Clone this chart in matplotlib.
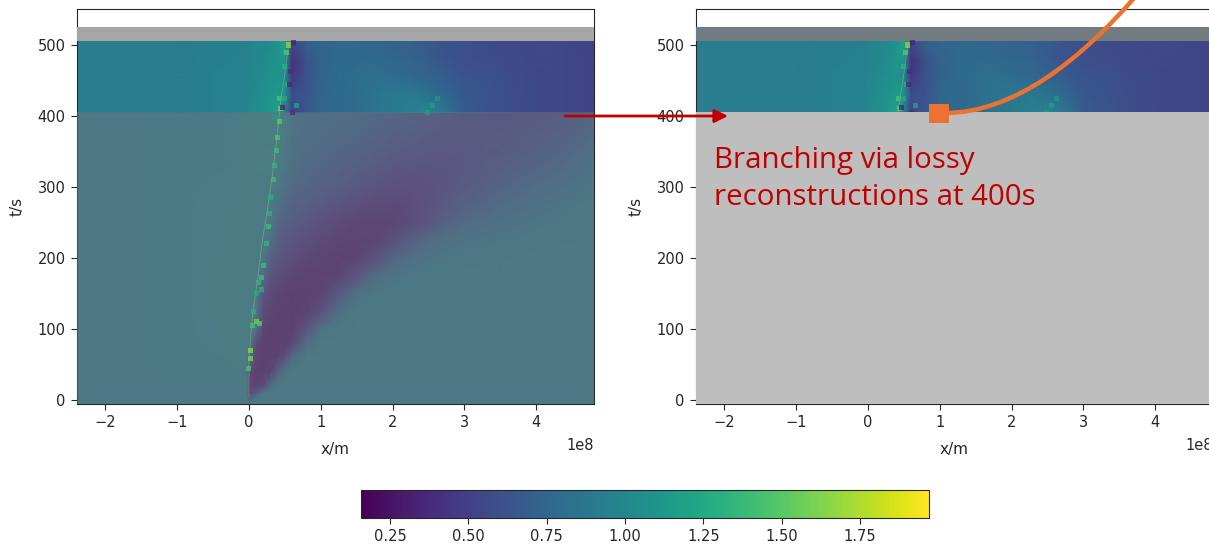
import numpy as np
import matplotlib
matplotlib.use("Agg")
import matplotlib.pyplot as plt
from matplotlib.colors import Normalize
from matplotlib.cm import ScalarMappable
from matplotlib.patches import FancyArrowPatch, PathPatch, Rectangle
from matplotlib.path import Path

W, H = 1209, 545

# x in units of 1e8 m, t in s
x_nodes = [-2.4, -1.6, -1.0, -0.5, -0.03, 0.0, 0.1, 0.2, 0.3, 0.4, 0.5, 0.6, 0.8,
           1.0, 1.25, 1.5, 1.75, 2.0, 2.25, 2.5, 2.75, 3.0, 3.5, 4.0, 4.4, 4.8]
t_nodes = [-6, 2, 10, 20, 40, 60, 80, 100, 125, 150, 175, 200, 225, 250, 275, 300,
           325, 350, 375, 404, 405, 430, 455, 480, 505]

field = [
    [1.00, 1.00, 1.00, 1.00, 1.00, 1.00, 1.00, 1.00, 1.00, 1.00, 1.00, 1.00, 1.00, 1.00, 1.00, 1.00, 1.00, 1.00, 1.00, 1.00, 1.00, 1.00, 1.00, 1.00, 1.00, 1.00],
    [1.00, 1.00, 1.00, 1.00, 1.00, 0.70, 1.00, 1.00, 1.00, 1.00, 1.00, 1.00, 1.00, 1.00, 1.00, 1.00, 1.00, 1.00, 1.00, 1.00, 1.00, 1.00, 1.00, 1.00, 1.00, 1.00],
    [1.00, 1.00, 1.00, 1.00, 1.00, 0.30, 0.55, 1.00, 1.00, 1.00, 1.00, 1.00, 1.00, 1.00, 1.00, 1.00, 1.00, 1.00, 1.00, 1.00, 1.00, 1.00, 1.00, 1.00, 1.00, 1.00],
    [1.00, 1.00, 1.00, 1.01, 1.00, 0.28, 0.25, 0.30, 0.80, 1.00, 1.00, 1.00, 1.00, 1.00, 1.00, 1.00, 1.00, 1.00, 1.00, 1.00, 1.00, 1.00, 1.00, 1.00, 1.00, 1.00],
    [1.00, 1.00, 1.01, 1.02, 1.02, 0.30, 0.22, 0.22, 0.25, 0.60, 0.95, 1.00, 1.00, 1.00, 1.00, 1.00, 1.00, 1.00, 1.00, 1.00, 1.00, 1.00, 1.00, 1.00, 1.00, 1.00],
    [1.00, 1.00, 1.01, 1.02, 1.04, 0.90, 0.25, 0.22, 0.22, 0.25, 0.40, 0.80, 1.00, 1.00, 1.00, 1.00, 1.00, 1.00, 1.00, 1.00, 1.00, 1.00, 1.00, 1.00, 1.00, 1.00],
    [1.00, 1.00, 1.01, 1.03, 1.05, 1.00, 0.35, 0.22, 0.22, 0.22, 0.22, 0.30, 0.80, 1.00, 1.00, 1.00, 1.00, 1.00, 1.00, 1.00, 1.00, 1.00, 1.00, 1.00, 1.00, 1.00],
    [1.00, 1.00, 1.01, 1.04, 1.05, 1.05, 0.90, 0.25, 0.22, 0.22, 0.22, 0.22, 0.45, 0.90, 1.00, 1.00, 1.00, 1.00, 1.00, 1.00, 1.00, 1.00, 1.00, 1.00, 1.00, 1.00],
    [1.00, 1.00, 1.02, 1.04, 1.05, 1.03, 1.00, 0.35, 0.25, 0.22, 0.22, 0.22, 0.24, 0.40, 0.85, 0.98, 1.00, 1.00, 1.00, 1.00, 1.00, 1.00, 1.00, 1.00, 1.00, 1.00],
    [1.00, 1.00, 1.02, 1.04, 1.05, 1.04, 1.00, 0.45, 0.32, 0.26, 0.24, 0.22, 0.22, 0.24, 0.50, 0.88, 0.97, 0.99, 1.00, 1.00, 1.00, 1.00, 1.00, 1.00, 1.00, 1.00],
    [1.00, 1.00, 1.02, 1.04, 1.05, 1.05, 1.04, 0.80, 0.45, 0.36, 0.30, 0.27, 0.24, 0.23, 0.26, 0.45, 0.80, 0.92, 0.97, 0.99, 1.00, 1.00, 1.00, 1.00, 1.00, 1.00],
    [1.00, 1.00, 1.02, 1.03, 1.05, 1.05, 1.05, 1.00, 0.62, 0.48, 0.42, 0.36, 0.30, 0.26, 0.24, 0.26, 0.40, 0.68, 0.85, 0.92, 0.96, 0.98, 0.99, 1.00, 1.00, 1.00],
    [1.00, 1.00, 1.02, 1.03, 1.05, 1.05, 1.05, 1.04, 0.85, 0.60, 0.52, 0.46, 0.38, 0.32, 0.27, 0.25, 0.27, 0.38, 0.60, 0.78, 0.87, 0.92, 0.96, 0.98, 0.99, 1.00],
    [1.00, 1.00, 1.02, 1.03, 1.05, 1.05, 1.05, 1.05, 1.00, 0.72, 0.62, 0.56, 0.48, 0.40, 0.34, 0.29, 0.27, 0.28, 0.35, 0.48, 0.65, 0.78, 0.88, 0.94, 0.97, 1.00],
    [1.00, 1.00, 1.02, 1.03, 1.04, 1.05, 1.05, 1.05, 1.04, 0.90, 0.72, 0.65, 0.60, 0.52, 0.45, 0.38, 0.33, 0.32, 0.35, 0.42, 0.52, 0.62, 0.77, 0.88, 0.94, 0.98],
    [1.00, 1.00, 1.01, 1.03, 1.04, 1.05, 1.05, 1.06, 1.05, 1.00, 0.85, 0.74, 0.69, 0.63, 0.57, 0.50, 0.45, 0.41, 0.40, 0.43, 0.47, 0.53, 0.68, 0.80, 0.86, 0.95],
    [1.00, 1.00, 1.01, 1.02, 1.04, 1.05, 1.06, 1.06, 1.06, 1.05, 0.95, 0.82, 0.74, 0.70, 0.63, 0.58, 0.53, 0.48, 0.46, 0.46, 0.48, 0.50, 0.60, 0.70, 0.80, 0.90],
    [1.00, 1.00, 1.01, 1.02, 1.04, 1.05, 1.06, 1.07, 1.07, 1.06, 1.00, 0.87, 0.78, 0.74, 0.70, 0.65, 0.61, 0.56, 0.53, 0.51, 0.50, 0.50, 0.54, 0.62, 0.72, 0.84],
    [1.00, 1.00, 1.01, 1.02, 1.04, 1.05, 1.06, 1.07, 1.08, 1.07, 1.05, 0.92, 0.82, 0.79, 0.76, 0.72, 0.67, 0.62, 0.58, 0.55, 0.53, 0.52, 0.52, 0.57, 0.65, 0.76],
    [1.00, 1.00, 1.01, 1.02, 1.04, 1.05, 1.06, 1.08, 1.09, 1.10, 1.08, 0.92, 0.84, 0.82, 0.80, 0.77, 0.74, 0.70, 0.66, 0.62, 0.57, 0.54, 0.51, 0.52, 0.58, 0.70],
    [0.92, 0.92, 0.92, 0.94, 0.97, 1.02, 1.05, 1.08, 1.14, 1.20, 0.95, 0.50, 0.65, 0.75, 0.78, 0.80, 0.86, 0.90, 0.94, 1.00, 0.86, 0.68, 0.60, 0.56, 0.54, 0.52],
    [0.92, 0.92, 0.92, 0.94, 0.97, 1.00, 1.02, 1.05, 1.10, 1.14, 1.08, 0.60, 0.63, 0.75, 0.78, 0.80, 0.85, 0.90, 0.90, 0.84, 0.75, 0.65, 0.60, 0.56, 0.54, 0.52],
    [0.92, 0.92, 0.92, 0.94, 0.96, 0.99, 1.01, 1.03, 1.07, 1.10, 1.02, 0.45, 0.62, 0.73, 0.78, 0.80, 0.82, 0.80, 0.77, 0.73, 0.68, 0.63, 0.59, 0.56, 0.54, 0.52],
    [0.92, 0.92, 0.92, 0.93, 0.95, 0.97, 1.00, 1.01, 1.05, 1.10, 1.12, 0.42, 0.62, 0.73, 0.77, 0.78, 0.77, 0.75, 0.73, 0.68, 0.63, 0.60, 0.57, 0.55, 0.54, 0.52],
    [0.92, 0.92, 0.92, 0.93, 0.94, 0.96, 0.98, 0.99, 1.00, 1.10, 1.22, 0.55, 0.72, 0.75, 0.76, 0.76, 0.75, 0.73, 0.71, 0.66, 0.62, 0.60, 0.56, 0.55, 0.54, 0.52],
]

# narrow bright and dark blocks along the moving front
front_x = [0.00, 0.02, 0.02, 0.05, 0.10, 0.14, 0.06, 0.13, 0.18, 0.17, 0.10, 0.20, 0.24, 0.27, 0.28,
           0.30, 0.34, 0.36, 0.38, 0.40, 0.42, 0.36, 0.44, 0.46, 0.42, 0.47, 0.50, 0.54, 0.56, 0.58,
           0.50, 0.52, 0.55, 0.62, 0.50, 0.66, 0.60, 2.55, 2.62, 2.48]
front_t = [45, 58, 70, 105, 110, 108, 125, 165, 172, 156, 150, 190, 220, 245, 262,
           285, 310, 330, 352, 370, 392, 400, 410, 412, 425, 425, 425, 445, 445, 462,
           470, 490, 500, 503, 425, 415, 405, 415, 425, 405]
front_v = [1.45, 1.60, 1.65, 1.45, 1.55, 1.50, 1.30, 1.35, 1.40, 1.30, 1.25, 1.40, 1.35, 1.40, 1.30,
           1.30, 1.40, 1.35, 1.40, 1.45, 1.50, 1.20, 1.55, 0.35, 1.45, 1.35, 1.55, 1.30, 0.35, 0.40,
           1.30, 1.50, 1.65, 0.35, 1.10, 1.20, 0.40, 1.15, 1.10, 1.15]

# thin trace of the front
trace_x = [0.00, 0.00, 0.05, 0.12, 0.18, 0.26, 0.33, 0.39, 0.44, 0.50, 0.56]
trace_t = [5, 60, 120, 170, 220, 270, 320, 370, 420, 460, 505]

x_ticks = [-2, -1, 0, 1, 2, 3, 4]
t_ticks = [0, 100, 200, 300, 400, 500]
cbar_ticks = [0.25, 0.50, 0.75, 1.00, 1.25, 1.50, 1.75]
vmin, vmax = 0.157, 1.97


def fx(px):
    return px / W


def fy(py):
    return 1 - py / H


def fp(px, py):
    return (fx(px), fy(py))


dark = "#262626"
plt.rcParams["axes.edgecolor"] = dark
plt.rcParams["xtick.color"] = dark
plt.rcParams["ytick.color"] = dark
plt.rcParams["text.color"] = dark
plt.rcParams["axes.labelcolor"] = dark

fig = plt.figure(figsize=(W / 100, H / 100), dpi=100)
ax1 = fig.add_axes([fx(77), fy(404), 517 / W, 395 / H])
ax2 = fig.add_axes([fx(696), fy(404), 517 / W, 395 / H])

norm = Normalize(vmin, vmax)
xs = np.array(x_nodes) * 1e8
fxs = np.array(front_x) * 1e8
txs = np.array(trace_x) * 1e8

for ax in (ax1, ax2):
    ax.pcolormesh(xs, t_nodes, np.array(field), cmap="viridis", norm=norm, shading="gouraud", zorder=1)
    ax.plot(txs, trace_t, color="#8fc98a", lw=0.6, alpha=0.5, zorder=4)
    ax.scatter(fxs, front_t, c=front_v, cmap="viridis", norm=norm, marker="s", s=13, linewidths=0, alpha=0.8, zorder=4)
    ax.set_xlim(-2.395e8, 4.805e8)
    ax.set_ylim(-5.6, 550.7)
    ax.set_xticks(np.array(x_ticks) * 1e8)
    ax.set_yticks(t_ticks)
    ax.set_xlabel("x/m", labelpad=8.5, fontsize=11)
    ax.set_ylabel("t/s", labelpad=9, fontsize=11)
    ax.tick_params(labelsize=10.5, length=4.2)
    ax.tick_params(axis="y", pad=4)
    ax.xaxis.get_offset_text().set_visible(False)

ax1.axhspan(-6, 405, color=(110 / 255, 110 / 255, 125 / 255), alpha=0.55, lw=0, zorder=3)
ax1.axhspan(505, 525, color="#a6a6a6", lw=0, zorder=3)
ax2.axhspan(-6, 405, color="#bebebe", lw=0, zorder=5)
ax2.axhspan(505, 525, color="#717b80", lw=0, zorder=3)

fig.text(fx(594), fy(450), "1e8", ha="right", fontsize=10.5)
fig.text(fx(1213), fy(450), "1e8", ha="right", fontsize=10.5)

cax = fig.add_axes([fx(361), fy(518), 568 / W, 28 / H])
fig.colorbar(ScalarMappable(norm=norm, cmap="viridis"), cax=cax, orientation="horizontal", ticks=cbar_ticks)
cax.set_xticklabels(["%.2f" % v for v in cbar_ticks])
cax.tick_params(labelsize=10.5, length=4.2)

# presentation annotations on top of the figure
red = "#c00000"
orange = "#ed7232"
fig.add_artist(FancyArrowPatch(fp(565, 116), fp(728, 116), transform=fig.transFigure, arrowstyle="-|>",
                               mutation_scale=20, color=red, lw=2.0, shrinkA=0, shrinkB=0, zorder=10))
curve = Path([fp(945, 113), fp(1015, 113), fp(1082, 58), fp(1135, -3)],
             [Path.MOVETO, Path.CURVE4, Path.CURVE4, Path.CURVE4])
fig.add_artist(PathPatch(curve, transform=fig.transFigure, fc="none", ec=orange, lw=3.2, zorder=10))
fig.add_artist(Rectangle(fp(929, 123), 20 / W, 19 / H, transform=fig.transFigure, fc=orange, ec="none", zorder=11))

fig.text(fx(714), fy(168), "Branching via lossy", color=red, fontsize=21.2, family="Open Sans", zorder=12)
fig.text(fx(714), fy(205), "reconstructions at 400s", color=red, fontsize=21.2, family="Open Sans", zorder=12)

fig.savefig("out.png", dpi=100)
